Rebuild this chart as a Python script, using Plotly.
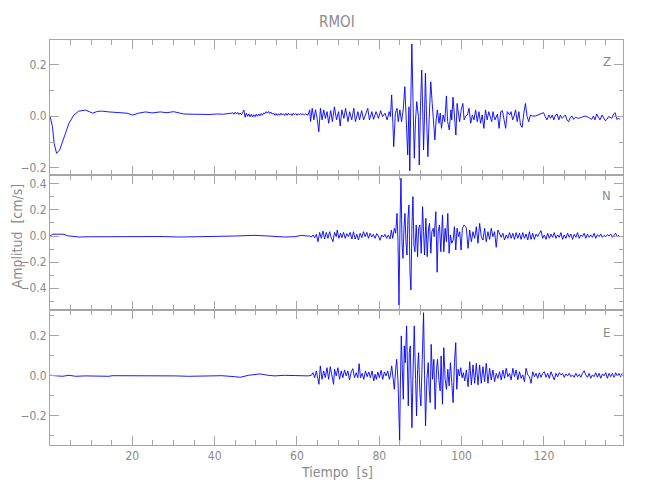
import plotly.graph_objects as go
from plotly.subplots import make_subplots

title = "RMOI"
components = ["Z", "N", "E"]
x_label = "Tiempo  [s]"
y_label = "Amplitud  [cm/s]"
x_range = [0.0, 139.2]
x_ticks = [20, 40, 60, 80, 100, 120]
y_ranges = {"Z": [-0.228, 0.2963], "N": [-0.569, 0.469], "E": [-0.3485, 0.3265]}

# ---------------- Z component (time s, amplitude cm/s) ----------------
z_early = [(0.0, 0.0), (0.6, -0.040), (1.0, -0.105), (1.6, -0.144), (2.35, -0.131), (3.4, -0.079),
           (4.6, -0.027), (5.8, 0.005), (7.0, 0.020), (8.6, 0.024), (9.6, 0.018), (10.4, 0.012),
           (11.5, 0.019), (12.7, 0.020), (14.3, 0.017), (15.9, 0.016), (17.5, 0.013), (18.7, 0.012),
           (20.1, 0.005), (21.5, 0.012), (23.2, 0.017), (24.8, 0.013), (26.8, 0.017), (28.4, 0.014),
           (30.0, 0.018), (31.3, 0.012), (32.5, 0.009), (34.5, 0.008), (36.1, 0.007), (37.3, 0.009),
           (38.9, 0.007), (40.5, 0.009), (42.1, 0.008), (44.1, 0.012)]
z_noise_t0 = 44.4
z_noise_dt = 0.3
z_noise = [0.014, 0.008, 0.016, 0.009, 0.015, 0.007, 0.013, 0.006, 0.017, 0.024, -0.004, 0.012,
           0.000, 0.009, -0.002, 0.008, -0.003, 0.006, -0.002, 0.008, 0.000, 0.009, 0.002, 0.011,
           0.004, 0.013, 0.010, 0.018, 0.012, 0.019, 0.011, 0.016, 0.008, 0.013, 0.004, 0.011,
           0.003, 0.010, 0.004, 0.012, 0.005, 0.010, 0.003, 0.011, 0.004, 0.012, 0.005, 0.010,
           0.003, 0.012, 0.006, 0.011, 0.004, 0.010, 0.005, 0.011, 0.006, 0.010, 0.005, 0.009, 0.006]
z_strong = [(62.7, 0.005), (63.1, 0.025), (63.3, -0.020), (63.7, 0.031), (64.1, -0.014), (64.5, 0.025),
            (64.9, -0.008), (65.3, -0.060), (65.7, 0.031), (66.1, -0.014), (66.5, 0.025), (66.9, -0.008),
            (67.3, 0.018), (67.7, -0.027), (68.2, 0.022), (68.6, -0.021), (69.1, 0.037), (69.6, -0.014),
            (70.1, 0.018), (70.5, -0.038), (70.9, 0.025), (71.4, -0.008), (71.8, 0.031), (72.4, -0.021),
            (72.8, 0.018), (73.3, -0.014), (73.8, 0.031), (74.2, -0.021), (74.8, 0.018), (75.2, -0.014),
            (75.7, 0.022), (76.2, -0.014), (76.8, 0.012), (77.2, 0.031), (77.6, -0.014), (78.2, 0.018),
            (78.6, -0.012), (79.2, 0.018), (79.8, -0.008), (80.3, 0.022), (80.8, -0.001), (81.4, 0.012),
            (81.9, -0.014), (82.4, 0.018), (82.7, -0.001), (83.0, 0.083), (83.3, -0.027), (83.5, -0.118),
            (83.9, 0.012), (84.3, 0.031), (84.6, -0.021), (85.0, 0.025), (85.4, -0.021), (85.8, 0.025),
            (86.2, 0.115), (86.55, -0.040), (86.9, -0.150), (87.2, 0.037), (87.4, -0.212), (87.7, 0.102),
            (87.9, 0.281), (88.25, 0.012), (88.5, -0.163), (88.8, -0.014), (89.1, 0.057), (89.5, -0.001),
            (89.7, -0.189), (90.0, 0.037), (90.3, 0.180), (90.6, -0.014), (90.75, -0.131), (91.0, 0.012),
            (91.2, 0.167), (91.55, -0.040), (91.8, -0.157), (92.1, -0.014), (92.5, 0.134), (92.85, 0.050),
            (93.2, -0.040), (93.5, -0.092), (93.8, -0.014), (94.1, 0.025), (94.5, -0.027), (94.8, 0.012),
            (95.1, -0.047), (95.5, 0.005), (95.9, -0.021), (96.3, 0.079), (96.6, -0.021), (97.0, -0.053),
            (97.4, 0.025), (97.6, -0.014), (97.9, 0.074), (98.25, -0.014), (98.6, -0.073), (98.9, 0.050),
            (99.2, 0.005), (99.5, -0.021), (99.9, 0.025), (100.3, 0.050), (100.6, -0.014), (101.0, 0.001)]
z_coda = [(101.4, 0.005), (101.8, 0.031), (102.2, -0.027), (102.6, 0.005), (103.0, -0.014), (103.4, 0.025),
          (103.8, -0.021), (104.2, 0.018), (104.6, -0.027), (105.0, 0.005), (105.4, -0.047), (105.8, 0.025),
          (106.2, -0.014), (106.6, 0.018), (107.3, -0.021), (107.6, 0.018), (108.1, -0.014), (108.7, 0.009),
          (109.1, -0.047), (109.5, 0.018), (109.9, 0.022), (110.3, -0.008), (110.7, -0.047), (111.1, 0.018),
          (111.5, 0.009), (111.7, 0.005), (112.0, 0.018), (112.4, -0.014), (112.8, 0.005), (113.1, 0.025),
          (113.5, -0.021), (113.9, 0.018), (114.3, -0.034), (114.7, -0.043), (115.1, 0.012), (115.5, 0.050),
          (115.9, -0.001), (116.3, -0.021), (116.7, 0.005), (117.1, 0.001), (117.9, 0.001), (118.7, 0.005),
          (119.5, 0.009), (119.9, 0.014), (120.3, -0.001), (120.7, -0.014), (121.2, 0.005), (121.6, -0.008),
          (122.0, 0.005), (122.4, -0.014), (122.8, 0.005), (123.2, 0.009), (123.6, -0.014), (124.0, 0.005),
          (124.4, -0.008), (124.8, 0.001), (125.2, 0.005), (125.6, -0.014), (126.0, -0.021), (126.4, -0.004),
          (126.8, 0.001), (127.2, -0.012), (127.6, -0.004), (128.4, -0.008), (129.2, -0.004), (130.0, 0.001),
          (130.8, -0.004), (131.6, -0.012), (132.0, 0.001), (132.4, -0.014), (132.8, 0.009), (133.2, -0.001),
          (133.6, -0.014), (134.1, 0.005), (134.5, -0.004), (134.9, -0.017), (135.3, -0.012), (135.7, -0.001),
          (136.5, -0.008), (136.9, 0.009), (137.3, 0.014), (137.7, -0.012), (138.1, -0.008), (138.5, -0.012)]

# ---------------- N component ----------------
n_early = [(0.0, 0.0), (0.6, 0.013), (2.0, 0.014), (3.4, 0.013), (4.2, 0.002), (5.5, -0.004), (7.0, -0.008),
           (9.5, -0.006), (11.9, -0.005), (14.0, -0.004), (16.7, -0.003), (20.0, -0.004), (23.9, -0.005),
           (27.5, -0.004), (31.2, -0.008), (35.0, -0.004), (38.5, -0.003), (42.0, -0.002), (44.9, 0.0),
           (47.5, 0.002), (49.8, 0.005), (53.0, 0.0), (57.0, -0.008), (59.5, -0.005), (61.1, 0.005), (62.5, 0.0)]
n_strong = [(63.09, 0.0), (63.49, -0.008), (63.89, 0.008), (64.3, -0.013), (64.7, 0.013), (65.1, -0.044),
            (65.51, 0.028), (65.91, -0.018), (66.31, 0.038), (66.72, -0.023), (67.12, 0.028), (67.52, -0.018),
            (67.93, 0.033), (68.33, -0.013), (68.73, -0.044), (69.13, 0.028), (69.54, -0.005), (69.78, 0.046),
            (70.18, -0.018), (70.59, 0.021), (70.91, -0.013), (71.31, 0.028), (71.72, -0.018), (72.12, 0.018),
            (72.52, -0.005), (72.92, 0.028), (73.33, -0.023), (73.73, 0.033), (74.13, -0.023), (74.54, 0.013),
            (74.94, -0.031), (75.34, 0.021), (75.75, -0.013), (76.15, 0.033), (76.55, -0.005), (76.96, 0.028),
            (77.36, -0.018), (77.76, 0.021), (78.17, -0.008), (78.57, 0.013), (78.97, -0.018), (79.38, 0.018),
            (79.78, 0.0), (80.18, -0.033), (80.59, 0.008), (80.99, -0.008), (81.39, 0.013), (81.8, -0.018),
            (82.2, 0.008), (82.6, -0.023), (82.93, 0.046), (83.25, -0.018), (83.65, 0.059), (83.97, 0.021),
            (84.3, 0.174), (84.54, -0.044), (84.78, -0.531), (85.02, 0.085), (85.26, 0.444), (85.51, -0.044),
            (85.75, -0.172), (85.99, 0.059), (86.23, 0.174), (86.47, -0.044), (86.72, -0.146), (86.96, 0.136),
            (87.2, 0.238), (87.44, -0.274), (87.68, -0.415), (87.93, 0.085), (88.17, 0.303), (88.41, -0.069),
            (88.65, -0.121), (88.97, 0.085), (89.3, -0.159), (89.54, 0.059), (89.86, 0.085), (90.18, -0.133),
            (90.51, 0.226), (90.75, 0.033), (90.99, -0.146), (91.31, 0.136), (91.64, -0.159), (91.96, 0.059),
            (92.2, 0.097), (92.52, -0.133), (92.76, 0.033), (93.09, 0.059), (93.33, -0.005), (93.73, 0.187),
            (94.05, -0.279), (94.3, 0.033), (94.62, 0.085), (94.94, -0.121), (95.35, 0.162), (95.67, -0.121),
            (95.99, 0.059), (96.31, -0.044), (96.64, 0.174), (96.96, -0.133), (97.28, 0.008), (97.6, -0.056),
            (97.93, -0.031), (98.25, 0.072), (98.57, -0.108), (98.89, 0.059), (99.22, -0.005), (99.54, 0.033),
            (99.86, -0.108), (100.18, 0.059), (100.59, 0.085), (100.99, 0.072)]
n_coda_t0 = 101.15
n_coda_dt = 0.403
n_coda = [0.059, -0.095, 0.046, -0.044, 0.033, -0.018, 0.072, -0.056, 0.097, -0.005, -0.031, 0.059,
          -0.044, 0.033, -0.026, 0.059, -0.005, 0.033, -0.087, 0.046, 0.021, -0.010, 0.021, -0.031,
          0.008, -0.018, 0.026, -0.018, 0.021, -0.026, 0.026, -0.018, 0.021, -0.026, 0.026, -0.018,
          0.015, -0.031, 0.033, -0.026, 0.021, -0.026, 0.015, -0.005, 0.021, 0.041, -0.018, 0.008,
          -0.026, 0.021, -0.018, 0.015, -0.010, 0.026, -0.018, 0.008, -0.010, 0.026, -0.026, 0.008,
          -0.018, 0.021, -0.010, 0.015, -0.026, 0.013, -0.010, 0.026, -0.018, 0.008, -0.005, 0.021,
          -0.018, 0.015, -0.010, 0.008, -0.010, 0.021, -0.018, 0.010, -0.005, 0.015, -0.010, 0.005,
          -0.005, 0.010, 0.0, 0.015, -0.010, 0.008, 0.021, -0.005, 0.008]

# ---------------- E component ----------------
e_early = [(0.0, 0.0), (1.4, -0.003), (3.0, -0.005), (4.6, 0.0), (6.2, -0.005), (8.6, -0.003), (11.1, -0.005),
           (14.3, -0.005), (15.1, -0.002), (17.5, -0.002), (20.7, 0.0), (23.2, -0.003), (26.4, 0.0),
           (30.4, -0.003), (33.7, -0.005), (36.9, -0.003), (39.3, -0.002), (41.7, -0.002), (44.9, -0.007),
           (46.2, -0.010), (48.2, 0.0), (51.0, 0.007), (53.0, 0.0), (54.6, -0.003), (57.0, 0.0),
           (59.5, -0.002), (61.1, 0.0), (62.7, -0.003), (63.49, 0.0)]
e_strong = [(63.89, 0.013), (64.3, -0.012), (64.7, 0.022), (65.1, -0.020), (65.34, -0.045), (65.67, 0.047),
            (66.07, -0.020), (66.47, 0.022), (66.88, -0.012), (67.28, 0.038), (67.68, -0.020), (68.09, 0.043),
            (68.49, -0.012), (68.89, -0.045), (69.13, 0.030), (69.54, -0.003), (69.94, 0.038), (70.34, -0.020),
            (70.75, 0.022), (71.15, -0.012), (71.55, 0.027), (71.96, -0.003), (72.36, 0.022), (72.76, -0.023),
            (73.17, 0.017), (73.57, 0.033), (73.97, -0.012), (74.38, 0.013), (74.78, -0.012), (75.1, 0.058),
            (75.42, -0.012), (75.83, 0.010), (76.23, -0.020), (76.63, 0.022), (77.04, -0.007), (77.44, 0.017),
            (77.84, -0.012), (78.25, 0.022), (78.65, -0.028), (78.97, 0.005), (79.3, -0.020), (79.62, 0.017),
            (80.02, -0.012), (80.43, 0.025), (80.83, -0.020), (81.23, 0.017), (81.64, -0.003), (82.04, 0.022),
            (82.44, -0.020), (82.68, -0.003), (83.01, 0.047), (83.33, -0.020), (83.65, -0.070), (83.97, 0.030),
            (84.22, 0.080), (84.54, -0.028), (84.78, -0.170), (84.94, -0.328), (85.1, -0.070), (85.34, 0.197),
            (85.59, 0.030), (85.83, -0.120), (86.07, 0.147), (86.31, 0.063), (86.63, 0.247), (86.88, -0.003),
            (87.04, -0.153), (87.28, 0.113), (87.52, 0.147), (87.76, -0.087), (87.93, -0.262), (88.17, -0.003),
            (88.49, 0.247), (88.81, -0.020), (89.05, -0.203), (89.3, 0.030), (89.54, 0.113), (89.86, -0.087),
            (90.1, -0.153), (90.43, 0.080), (90.75, 0.313), (90.99, -0.003), (91.23, -0.253), (91.55, -0.020),
            (91.88, 0.063), (92.12, -0.070), (92.36, -0.137), (92.6, 0.155), (92.93, -0.020), (93.25, 0.080),
            (93.57, -0.170), (93.89, 0.030), (94.14, 0.080), (94.46, -0.020), (94.78, -0.078), (95.02, 0.097),
            (95.34, -0.145), (95.67, 0.138), (95.99, -0.020), (96.31, -0.070), (96.64, 0.030), (96.96, -0.053),
            (97.28, 0.063), (97.6, -0.037), (97.93, -0.137), (98.25, 0.063), (98.57, 0.163), (98.81, -0.070),
            (99.14, 0.030), (99.46, -0.003), (99.78, 0.038), (100.1, -0.012), (100.42, 0.013), (100.75, -0.028),
            (100.99, -0.003)]
e_coda_t0 = 101.15
e_coda_dt = 0.403
e_coda = [0.027, -0.057, 0.068, -0.048, 0.052, -0.040, 0.060, -0.048, 0.052, -0.040, 0.043, -0.032,
          0.060, -0.040, 0.035, -0.023, 0.027, -0.032, 0.010, -0.015, 0.018, -0.023, 0.027, -0.015,
          0.035, -0.007, 0.010, -0.023, 0.035, -0.007, 0.027, -0.023, 0.018, -0.015, 0.002, -0.032,
          0.035, 0.002, -0.007, -0.040, 0.018, -0.007, 0.010, -0.015, 0.013, -0.010, 0.010, 0.018,
          -0.010, 0.010, -0.015, 0.018, -0.007, -0.023, 0.010, -0.007, 0.013, 0.002, 0.010, -0.010,
          0.007, -0.003, 0.010, -0.007, 0.002, -0.010, 0.010, -0.007, 0.005, -0.010, 0.010, 0.023,
          0.002, -0.010, 0.010, -0.015, 0.002, -0.007, 0.013, -0.010, 0.010, -0.015, 0.007, -0.003,
          0.013, -0.015, 0.010, -0.007, 0.010, -0.010, 0.013, -0.003, 0.010, -0.007, 0.010]


def pairs_to_xy(pairs):
    return [p[0] for p in pairs], [p[1] for p in pairs]


def uniform_to_xy(t0, dt, values):
    return [t0 + i * dt for i in range(len(values))], list(values)


def join(*parts):
    xs, ys = [], []
    for px, py in parts:
        xs += px
        ys += py
    return xs, ys


traces = {
    "Z": join(pairs_to_xy(z_early), uniform_to_xy(z_noise_t0, z_noise_dt, z_noise),
              pairs_to_xy(z_strong), pairs_to_xy(z_coda)),
    "N": join(pairs_to_xy(n_early), pairs_to_xy(n_strong), uniform_to_xy(n_coda_t0, n_coda_dt, n_coda)),
    "E": join(pairs_to_xy(e_early), pairs_to_xy(e_strong), uniform_to_xy(e_coda_t0, e_coda_dt, e_coda)),
}

AX = "#a6a6a6"
TXT = "#8a8a8a"
FONT = "Liberation Sans Narrow, DejaVu Sans Condensed, Liberation Sans, sans-serif"

fig = make_subplots(rows=3, cols=1, shared_xaxes=True, vertical_spacing=0)
for i, comp in enumerate(components):
    xs, ys = traces[comp]
    fig.add_trace(go.Scatter(x=xs, y=ys, mode="lines", line=dict(color="#0000ff", width=0.9),
                             showlegend=False, hoverinfo="skip"), row=i + 1, col=1)
    fig.update_yaxes(range=y_ranges[comp], dtick=0.2, tick0=0, tickformat=".1f",
                     showline=True, linecolor=AX, linewidth=1, mirror="allticks",
                     ticks="inside", ticklen=9, tickcolor=AX, tickwidth=1,
                     minor=dict(ticks="inside", ticklen=4, dtick=0.1, tick0=0, tickcolor=AX, tickwidth=1),
                     showgrid=False, zeroline=False,
                     tickfont=dict(family=FONT, size=12, color=TXT), row=i + 1, col=1)
    fig.update_xaxes(range=x_range, tickmode="array", tickvals=x_ticks,
                     ticktext=[str(v) for v in x_ticks],
                     showline=True, linecolor=AX, linewidth=1, mirror="allticks",
                     ticks="inside", ticklen=9, tickcolor=AX, tickwidth=1,
                     minor=dict(ticks="inside", ticklen=5, dtick=5, tick0=0, tickcolor=AX, tickwidth=1),
                     showgrid=False, zeroline=False, showticklabels=(i == 2),
                     tickfont=dict(family=FONT, size=12, color=TXT), row=i + 1, col=1)

label_y = {"Z": 0.948, "N": 0.615, "E": 0.279}
annotations = [dict(text=c, x=0.972, y=label_y[c], xref="paper", yref="paper", showarrow=False,
                    xanchor="center", yanchor="middle", font=dict(family=FONT, size=13, color=TXT))
               for c in components]
annotations.append(dict(text=title, x=0.5, y=1.045, xref="paper", yref="paper", showarrow=False,
                        xanchor="center", yanchor="middle", font=dict(family=FONT, size=15, color=TXT)))
annotations.append(dict(text=x_label, x=0.5, y=-0.067, xref="paper", yref="paper", showarrow=False,
                        xanchor="center", yanchor="middle", font=dict(family=FONT, size=14, color=TXT)))
annotations.append(dict(text=y_label, x=-0.057, y=0.516, xref="paper", yref="paper", showarrow=False,
                        textangle=-90, xanchor="center", yanchor="middle",
                        font=dict(family=FONT, size=14, color=TXT)))

# the page adds an 8 px body margin, so the figure is sized to sit inside the 650x500 window
fig.update_layout(width=640, height=490, margin=dict(l=40, r=25, t=32, b=53),
                  plot_bgcolor="white", paper_bgcolor="white", annotations=annotations)
fig.write_html("out.html")
